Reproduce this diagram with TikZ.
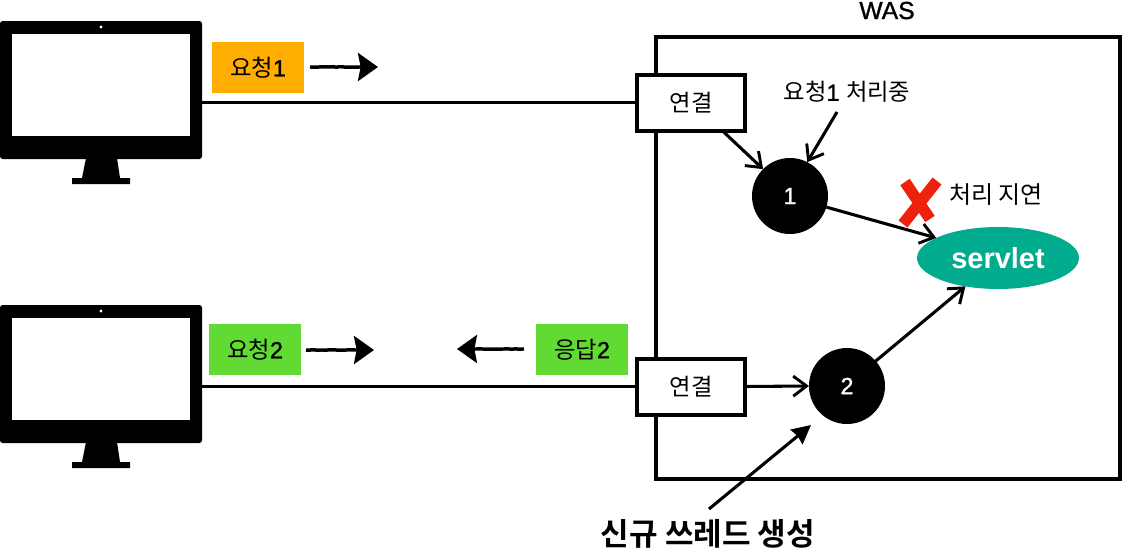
\documentclass[tikz,border=0pt]{standalone}
\usepackage{fontspec}
\setmainfont{Liberation Sans}
\newfontfamily\hv[FakeBold=1.2]{Liberation Sans}
\newfontfamily\krfont{Noto Sans CJK KR}
\newfontfamily\krbold{Noto Sans CJK KR Bold}
\usetikzlibrary{shapes.geometric,arrows.meta,decorations.pathmorphing}
\definecolor{reqorange}{HTML}{FFAD00}
\definecolor{reqgreen}{HTML}{61DB33}
\definecolor{servgreen}{HTML}{00AB8E}
\definecolor{xred}{HTML}{EE220C}
\newcommand{\kosize}{\fontsize{17.5}{21}\selectfont}
\tikzset{
  x=0.75pt,y=-0.75pt,
  every node/.style={inner sep=0pt,outer sep=0pt},
  monitor/.style={draw=none,fill=black,rounded corners=2pt,minimum width=151.5pt,minimum height=103.5pt},
  screen/.style={draw=none,fill=white,minimum width=133.5pt,minimum height=76.5pt},
  wasbox/.style={draw=black,line width=3pt,fill=white,minimum width=348pt,minimum height=331pt},
  connbox/.style={draw=black,line width=3pt,fill=white,minimum width=80.5pt,minimum height=42pt,font=\kosize},
  msg/.style={minimum width=69pt,minimum height=38.25pt,font=\kosize},
  thread/.style={circle,fill=black,text=white,minimum size=57pt,font=\fontsize{17.5}{21}\selectfont\hv},
  link/.style={draw=black,line width=2.3pt},
  linkarrow/.style={link,-{Straight Barb[length=10pt,width=15pt,line width=2.2pt]}},
  fatarrow/.style={link,-{Stealth[length=14pt,width=14pt,inset=1pt]}},
  sketch/.style={draw=black,line width=2.6pt,-{Stealth[length=15pt,width=21pt,inset=2pt]},decorate,decoration={random steps,segment length=2pt,amplitude=0.2pt,post=lineto,post length=14pt}},
  cross/.style={draw=xred,line width=8.5pt},
}
\begin{document}
\begin{tikzpicture}
\useasboundingbox (0,0) rectangle (1122,554);
% monitors
\foreach \nm/\yy in {mona/0,monb/284}{
  \node[monitor] (\nm) at (101,90+\yy) {};
  \node[screen] (\nm scr) at (101,85+\yy) {};
  \fill[white] (101,27+\yy) circle (1.3pt);
  \fill[black] (86,158+\yy) -- (117,158+\yy) -- (120,178+\yy) -- (130,178+\yy) -- (130,184+\yy) -- (72,184+\yy) -- (72,178+\yy) -- (82,178+\yy) -- cycle;
}
% WAS
\node[wasbox] (was) at (887.5,258) {};
\node[font=\fontsize{18.5}{22}\selectfont\hv,anchor=base] (waslabel) at (887,19) {WAS};
\node[connbox] (conna) at (691,102.5) {\krfont 연결};
\node[connbox] (connb) at (691,386.5) {\krfont 연결};
\draw[link] (mona.east |- conna.west) -- (conna.west);
\draw[link] (monb.east |- connb.west) -- (connb.west);
% messages
\node[msg,fill=reqorange] (req1) at (258,67.5) {\krfont 요청\hv 1};
\node[msg,fill=reqgreen] (req2) at (255,349.5) {\krfont 요청\hv 2};
\node[msg,fill=reqgreen] (res2) at (582,349.5) {\krfont 응답\hv 2};
\coordinate (req1s) at (310,67);\coordinate (req1e) at (378,67);
\coordinate (req2s) at (306,350);\coordinate (req2e) at (374,350);
\coordinate (res2s) at (524,349);\coordinate (res2e) at (457,349);
\draw[sketch] (req1s) -- (req1e);
\draw[sketch] (req2s) -- (req2e);
\draw[sketch] (res2s) -- (res2e);
% threads
\node[thread] (t1) at (790,196) {1};
\node[thread] (t2) at (847,386) {2};
\node[ellipse,fill=servgreen,text=white,minimum width=121.5pt,minimum height=46.5pt,font=\bfseries\fontsize{21.7}{25}\selectfont] (servlet) at (998,258) {servlet};
\node[font=\kosize] (proc) at (847,92) {\krfont 요청\hv 1 \krfont 처리중};
\node[font=\fontsize{18}{22}\selectfont] (delay) at (996,195) {\krfont 처리 지연};
\node[font=\fontsize{23.3}{27}\selectfont] (newt) at (708,534) {\krbold 신규 쓰레드 생성};
\draw[linkarrow] (conna.-42) -- (t1.135);
\draw[linkarrow] (connb.east) -- (t2.west);
\draw[linkarrow] (t1.-17) -- (servlet.162);
\draw[linkarrow] (t2.41) -- (servlet.221);
\coordinate (procs) at (837,112);
\draw[linkarrow] (procs) -- (t1.63);
\coordinate (newa) at (709,509);\coordinate (newb) at (811,425);
\draw[fatarrow] (newa) -- (newb);
% cross
\draw[cross] (937,181) -- (903,224);
\draw[cross] (905,182) -- (930,219);
\end{tikzpicture}
\end{document}
